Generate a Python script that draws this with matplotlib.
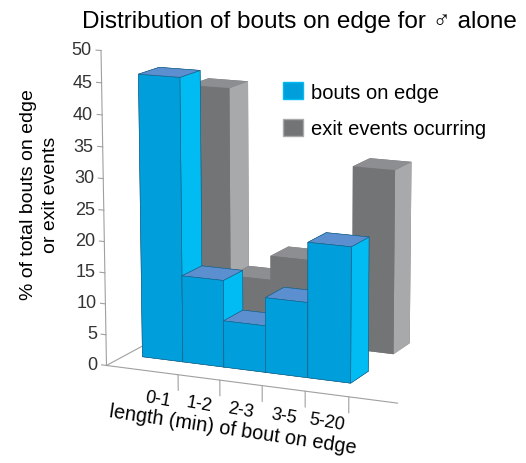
import matplotlib.pyplot as plt
from matplotlib.patches import Patch
from mpl_toolkits.mplot3d import proj3d

categories = ['0-1', '1-2', '2-3', '3-5', '5-20']
bouts_on_edge = [45.5, 14, 7.5, 12, 21.5]
exit_events = [41, 10, 14, 5, 30]
z_ticks = list(range(0, 51, 5))

blue = {'front': '#009fdb', 'top': '#5b8fcf', 'side': '#00bcf2'}
gray = {'front': '#737476', 'top': '#8d8e91', 'side': '#a8a9ab'}
axis_col = '#a0a0a0'

plt.rcParams['font.family'] = ['Liberation Sans', 'DejaVu Sans']

fig = plt.figure(figsize=(5.26, 4.64), dpi=100)
ax = fig.add_axes([0.057, 0.054, 1.0, 1.0], projection='3d')
ax.set_proj_type('persp', focal_length=1.0)
ax.view_init(elev=12.5, azim=-66)
ax.computed_zorder = False

x0, x1 = -0.4, 6.45
y0, y1 = -0.38, 1.8
ax.set_xlim(x0, x1)
ax.set_ylim(y0, y1)
ax.set_zlim(0, 50)
ax.set_box_aspect((308, 240, 313), zoom=1.06)
ax.set_axis_off()

# axis lines, drawn under the bars
ax.plot([x0, x0], [y0, y0], [0, 50], color=axis_col, lw=0.8, zorder=0)
ax.plot([x0, x1], [y0, y0], [0, 0], color=axis_col, lw=0.8, zorder=0)
ax.plot([x0, x0], [y0, y1], [0, 0], color=axis_col, lw=0.8, zorder=0)
for z in z_ticks:
    ax.plot([x0 - 0.12, x0], [y0, y0], [z, z], color=axis_col, lw=0.8, zorder=0)
for i in range(1, len(categories) + 1):
    ax.plot([i + 0.35, i + 0.35], [y0, y0], [0, -2.5], color=axis_col, lw=0.8, zorder=0)


def faces(c):
    # -z, +z, -y, +y, -x, +x
    return [c['front'], c['top'], c['front'], c['front'], c['front'], c['side']]


depth = 0.4
for i, v in enumerate(exit_events):
    ax.bar3d(i, 1.0, 0, 1, depth, v, color=faces(gray), shade=False, edgecolor=None)
for i, v in enumerate(bouts_on_edge):
    ax.bar3d(i, 0.0, 0, 1, depth, v, color=faces(blue), shade=False,
             edgecolor='#1a5f85', linewidth=0.4)

# place axis texts in 2D at projected points
fig.canvas.draw()


def to_fig(x, y, z):
    px, py, _ = proj3d.proj_transform(x, y, z, ax.M)
    dx, dy = ax.transData.transform((px, py))
    return dx / fig.bbox.width, dy / fig.bbox.height


for z in z_ticks:
    fx, fy = to_fig(x0 - 0.22, y0, z)
    fig.text(fx, fy, str(z), ha='right', va='center', fontsize=13, color='#333333')
for i, c in enumerate(categories):
    fx, fy = to_fig(i + 0.85, y0, -4.3)
    fig.text(fx, fy, c, ha='center', va='center', fontsize=13, rotation=-10)

fig.text(0.570, 0.953, 'Distribution of bouts on edge for \u2642 alone', ha='center', va='center', fontsize=17.5)
fig.text(0.075, 0.58, '% of total bouts on edge\nor exit events', rotation=90, ha='center', va='center',
         fontsize=14, linespacing=1.4)
fig.text(0.443, 0.073, 'length (min) of bout on edge', rotation=-8.5, ha='center', va='center', fontsize=14.3)

handles = [Patch(facecolor=blue['front'], edgecolor=blue['side']),
           Patch(facecolor=gray['front'], edgecolor=gray['side'])]
fig.legend(handles, ['bouts on edge', 'exit events ocurring'], loc='upper left',
           bbox_to_anchor=(0.538, 0.821), frameon=False, fontsize=14.5, borderpad=0, borderaxespad=0,
           handlelength=1.0, handleheight=0.95, labelspacing=0.85, handletextpad=0.4)

fig.savefig('out.png', dpi=100)
